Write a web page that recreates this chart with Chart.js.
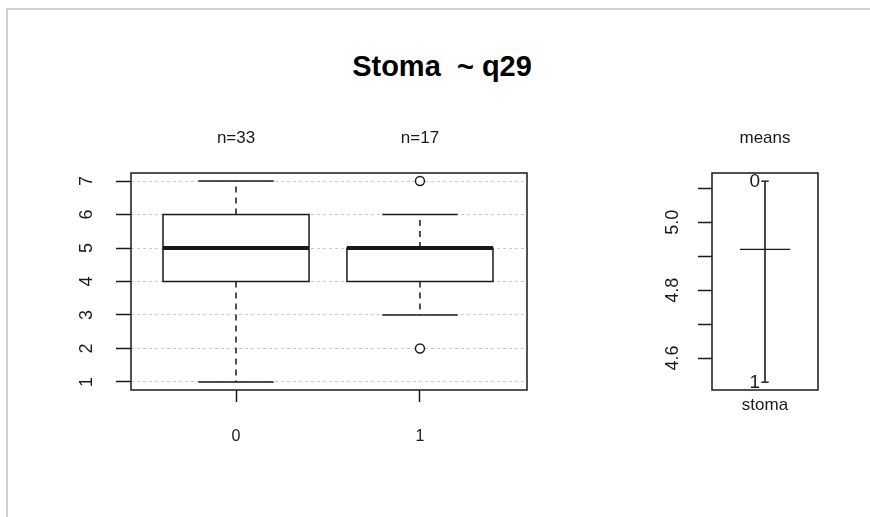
<!DOCTYPE html>
<html lang="en">
<head>
  <meta charset="UTF-8">
  <title>Stoma ~ q29</title>
  <script src="https://cdn.jsdelivr.net/npm/chart.js"></script>
  <style>
    body {
      margin: 0;
      width: 870px;
      height: 517px;
      background: #fff;
      position: relative;
      overflow: hidden;
      font-family: "Liberation Sans", Arial, sans-serif;
    }
    .frame {
      position: absolute;
      left: 6px;
      top: 8px;
      width: 900px;
      height: 600px;
      border-top: 2px solid #d0d0d0;
      border-left: 2px solid #d0d0d0;
    }
    .title {
      position: absolute;
      left: 0;
      width: 884px;
      top: 50px;
      text-align: center;
      font-weight: bold;
      font-size: 29px;
      color: #000;
      white-space: pre;
    }
    #boxChart { position: absolute; left: 0; top: 0; }
    #meanChart { position: absolute; left: 600px; top: 0; }
  </style>
</head>
<body>
  <div class="frame"></div>
  <div class="title">Stoma  ~ q29</div>
  <canvas id="boxChart" width="870" height="517"></canvas>
  <canvas id="meanChart" width="270" height="517"></canvas>

<script>
  // groups of q29 and their boxplot stats
  const groups = ['0', '1'];
  const groupPos = [0, 1];
  const counts = [33, 17];
  const whiskerLow = [1, 3];
  const q1 = [4, 4];
  const medians = [5, 5];
  const q3 = [6, 5];
  const whiskerHigh = [7, 6];
  const outliers = [[], [2, 7]];
  const yTicks = [1, 2, 3, 4, 5, 6, 7];

  // means panel
  const groupMeans = [5.121, 4.529];
  const grandMean = 4.92;
  const meanTicks = [4.6, 4.7, 4.8, 4.9, 5.0, 5.1];
  const meanTickLabels = ['4.6', '', '4.8', '', '5.0', ''];

  const ink = '#1a1a1a';
  const family = '"Liberation Sans", Arial, sans-serif';
  const font = { family, size: 17 };

  const framePlugin = {
    id: 'frame',
    afterDraw(chart) {
      const { ctx, chartArea: a } = chart;
      ctx.save();
      ctx.strokeStyle = ink;
      ctx.lineWidth = 1.5;
      ctx.strokeRect(a.left, a.top, a.right - a.left, a.bottom - a.top);
      ctx.restore();
    }
  };

  const boxPlugin = {
    id: 'boxes',
    beforeDatasetsDraw(chart) {
      const { ctx, scales: { x, y } } = chart;
      const boxHalf = 0.397, capHalf = 0.205;
      ctx.save();
      ctx.strokeStyle = ink;
      groupPos.forEach((g, i) => {
        const cx = x.getPixelForValue(g);
        const bl = x.getPixelForValue(g - boxHalf), br = x.getPixelForValue(g + boxHalf);
        const cl = x.getPixelForValue(g - capHalf), cr = x.getPixelForValue(g + capHalf);
        const yLo = y.getPixelForValue(whiskerLow[i]), yHi = y.getPixelForValue(whiskerHigh[i]);
        const y1 = y.getPixelForValue(q1[i]), y3 = y.getPixelForValue(q3[i]);
        const ym = y.getPixelForValue(medians[i]);
        // whiskers
        ctx.lineWidth = 1.5;
        ctx.setLineDash([6, 5]);
        ctx.beginPath();
        ctx.moveTo(cx, y3); ctx.lineTo(cx, yHi);
        ctx.moveTo(cx, y1); ctx.lineTo(cx, yLo);
        ctx.stroke();
        ctx.setLineDash([]);
        ctx.beginPath();
        ctx.moveTo(cl, yHi); ctx.lineTo(cr, yHi);
        ctx.moveTo(cl, yLo); ctx.lineTo(cr, yLo);
        ctx.stroke();
        // box
        ctx.fillStyle = '#fff';
        ctx.fillRect(bl, y3, br - bl, y1 - y3);
        ctx.strokeRect(bl, y3, br - bl, y1 - y3);
        // median
        ctx.lineWidth = 4;
        ctx.beginPath();
        ctx.moveTo(bl, ym); ctx.lineTo(br, ym);
        ctx.stroke();
      });
      ctx.restore();
    }
  };

  const outlierPoints = [];
  outliers.forEach((vals, i) => vals.forEach(v => outlierPoints.push({ x: groupPos[i], y: v })));

  new Chart(document.getElementById('boxChart'), {
    type: 'scatter',
    data: {
      datasets: [{
        data: outlierPoints,
        pointRadius: 4.5,
        borderWidth: 1.4,
        borderColor: ink,
        backgroundColor: '#fff'
      }]
    },
    options: {
      responsive: false,
      animation: false,
      layout: { padding: { left: 0, right: 343, top: 0, bottom: 0 } },
      plugins: { legend: { display: false }, tooltip: { enabled: false } },
      scales: {
        x: {
          type: 'linear', position: 'bottom',
          min: -0.571, max: 1.582,
          afterBuildTicks: s => { s.ticks = groupPos.map(v => ({ value: v })); },
          afterFit: s => { s.height = 127; },
          ticks: { callback: (v, i) => groups[i], font: { family, size: 16 }, color: ink, padding: 25, maxRotation: 0 },
          grid: { drawOnChartArea: false, tickLength: 12, tickColor: ink, tickWidth: 1.5 },
          border: { display: false }
        },
        xTop: {
          type: 'linear', position: 'top',
          min: -0.571, max: 1.582,
          afterBuildTicks: s => { s.ticks = groupPos.map(v => ({ value: v })); },
          afterFit: s => { s.height = 173; },
          ticks: { callback: (v, i) => 'n=' + counts[i], font, color: ink, padding: 24, maxRotation: 0 },
          grid: { display: false, drawTicks: false },
          border: { display: false }
        },
        y: {
          type: 'linear', position: 'left',
          min: 0.76, max: 7.24,
          afterBuildTicks: s => { s.ticks = yTicks.map(v => ({ value: v })); },
          afterFit: s => { s.width = 131; },
          ticks: { font: { family, size: 18 }, color: ink, minRotation: 90, maxRotation: 90, crossAlign: 'center', padding: 24 },
          grid: { color: '#c8c8c8', lineWidth: 1, tickLength: 15, tickColor: ink, tickWidth: 1.5 },
          border: { display: false, dash: [3, 3] }
        }
      }
    },
    plugins: [boxPlugin, framePlugin]
  });

  const meanLabels = {
    id: 'meanLabels',
    afterDatasetsDraw(chart) {
      const { ctx, scales: { x, y } } = chart;
      const cx = x.getPixelForValue(1);
      ctx.save();
      ctx.fillStyle = ink;
      ctx.font = '19px ' + family;
      ctx.textAlign = 'right';
      ctx.textBaseline = 'middle';
      groups.forEach((g, i) => ctx.fillText(g, cx - 5, y.getPixelForValue(groupMeans[i]) + 1));
      ctx.restore();
    }
  };

  const seg = (x0, x1, y0, y1, w) => ({
    data: [{ x: x0, y: y0 }, { x: x1, y: y1 }],
    showLine: true, borderColor: ink, borderWidth: w, pointRadius: 0
  });

  new Chart(document.getElementById('meanChart'), {
    type: 'scatter',
    data: {
      datasets: [
        seg(1, 1, groupMeans[1], groupMeans[0], 1.6),
        seg(0.93, 1.07, groupMeans[0], groupMeans[0], 1.4),
        seg(0.93, 1.07, groupMeans[1], groupMeans[1], 1.4),
        seg(0.53, 1.47, grandMean, grandMean, 1.4)
      ]
    },
    options: {
      responsive: false,
      animation: false,
      layout: { padding: { left: 0, right: 52, top: 0, bottom: 0 } },
      plugins: { legend: { display: false }, tooltip: { enabled: false } },
      scales: {
        x: {
          type: 'linear', position: 'bottom', min: 0, max: 2,
          afterBuildTicks: s => { s.ticks = [{ value: 1 }]; },
          afterFit: s => { s.height = 127; },
          ticks: { callback: () => 'stoma', font, color: ink, padding: 5, maxRotation: 0 },
          grid: { display: false, drawTicks: false },
          border: { display: false }
        },
        xTop: {
          type: 'linear', position: 'top', min: 0, max: 2,
          afterBuildTicks: s => { s.ticks = [{ value: 1 }]; },
          afterFit: s => { s.height = 173; },
          ticks: { callback: () => 'means', font, color: ink, padding: 24, maxRotation: 0 },
          grid: { display: false, drawTicks: false },
          border: { display: false }
        },
        y: {
          type: 'linear', position: 'left', min: 4.506, max: 5.145,
          afterBuildTicks: s => { s.ticks = meanTicks.map(v => ({ value: v })); },
          afterFit: s => { s.width = 112; },
          ticks: { callback: (v, i) => meanTickLabels[i], font: { family, size: 18 }, color: ink, minRotation: 90, maxRotation: 90, crossAlign: 'center', padding: 12 },
          grid: { drawOnChartArea: false, tickLength: 14, tickColor: ink, tickWidth: 1.5 },
          border: { display: false }
        }
      }
    },
    plugins: [meanLabels, framePlugin]
  });
</script>
</body>
</html>
